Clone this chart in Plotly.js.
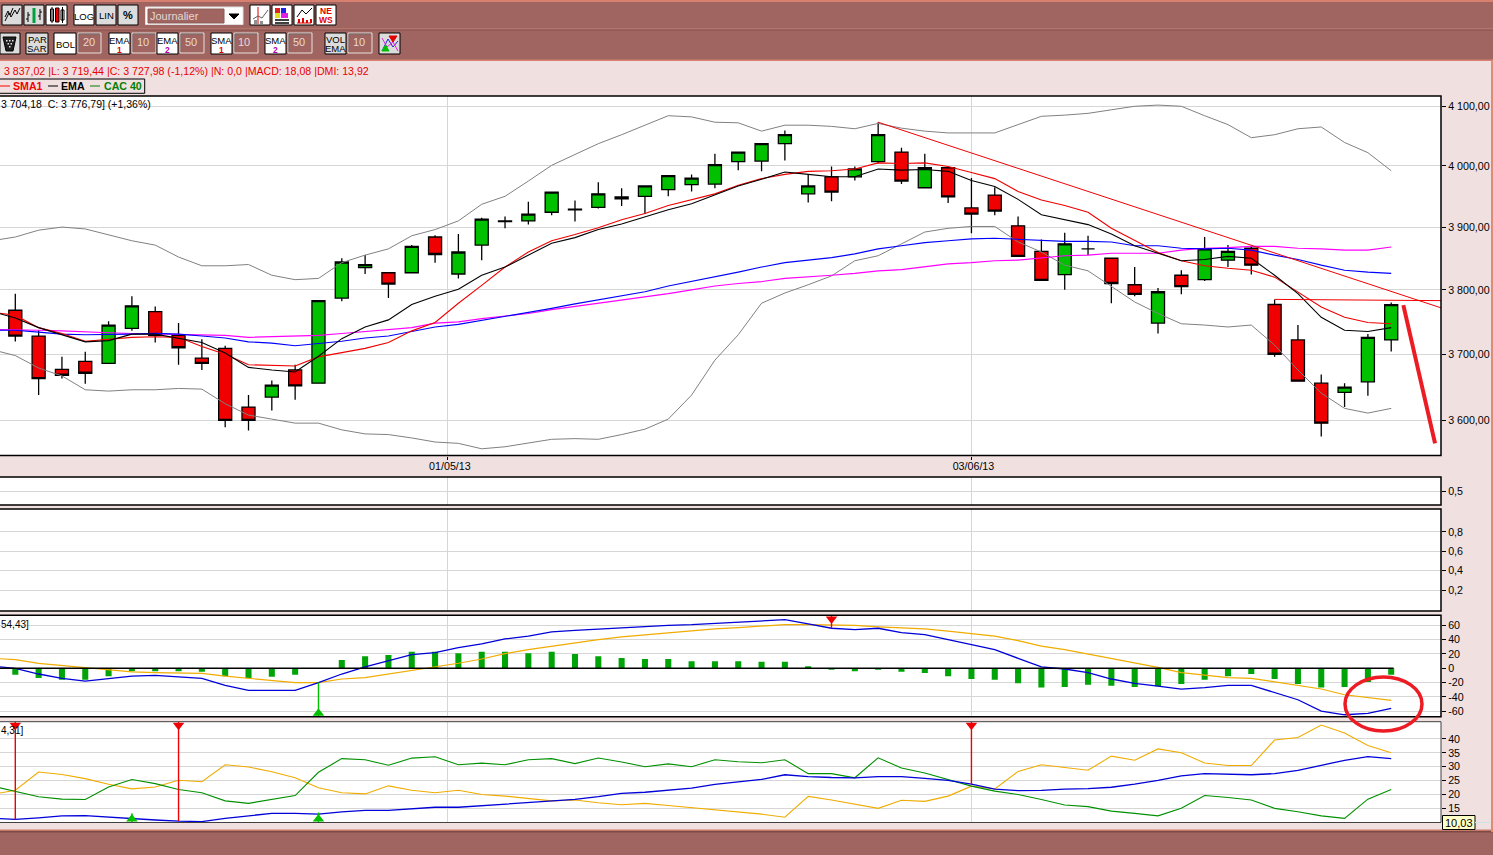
<!DOCTYPE html>
<html><head><meta charset="utf-8">
<script src="https://cdn.plot.ly/plotly-3.0.1.min.js"></script>
<style>html,body{margin:0;padding:0;background:#f0e0e0;overflow:hidden}#c{width:1493px;height:855px}</style>
</head><body><div id="c"></div>
<script>
// ---- sessions (first entry is the session just off the left edge, no candle shown)
const sessions = [-1,0,1,2,3,4,5,6,7,8,9,10,11,12,13,14,15,16,17,18,19,20,21,22,23,24,25,26,27,28,29,30,31,32,33,34,35,36,37,38,39,40,41,42,43,44,45,46,47,48,49,50,51,52,53,54,55,56,57,58,59];
const candleSessions = sessions.slice(1);
const dateTickPos = [18.55, 41];
const dateTickText = ['01/05/13', '03/06/13'];

// ---- candles
const open = [3768,3728,3677,3689,3686,3740,3766,3729,3694,3709,3620,3635,3676,3656,3787,3835,3827,3827,3884,3825,3871,3909,3910,3924,3928,3932,3949,3950,3961,3969,3970,4007,4008,4037,3954,3982,3982,4007,4023,3964,3997,3931,3952,3902,3861,3824,3865,3850,3808,3748,3823,3816,3847,3866,3777,3722,3656,3642,3658,3722];
const high = [3794,3737,3696,3704,3751,3790,3774,3748,3723,3713,3638,3660,3684,3783,3850,3855,3827,3871,3887,3889,3915,3917,3941,3957,3943,3973,3963,3967,3984,3986,4020,4023,4037,4059,3986,3999,3999,4073,4030,4020,3997,3980,3965,3917,3880,3891,3886,3850,3836,3803,3831,3884,3871,3870,3785,3745,3669,3656,3731,3780];
const low = [3719.44,3638,3663,3655,3686,3736,3718,3684,3676,3590,3585,3615,3631,3656,3782,3825,3787,3827,3843,3818,3847,3898,3904,3919,3909,3930,3934,3921,3950,3958,3963,3993,3991,4009,3940,3942,3976,4004,3970,3964,3939,3890,3919,3853,3815,3800,3855,3779,3790,3732,3793,3814,3836,3824,3696,3659,3576,3620,3637,3704.18];
const close = [3727.98,3663,3668,3671,3745,3775,3729,3710,3686,3600,3600,3653,3652,3783,3844,3840,3809,3869,3856,3860,3913,3910,3921,3957,3929,3954,3946,3967,3984,3980,4002,4023,4037,4052,3967,3957,3995,4052,3975,3997,3949,3921,3926,3853,3815,3873,3865,3810,3793,3797,3805,3865,3861,3839,3700,3659,3596,3650,3726,3776.79];

// ---- overlays on the price panel
const bbUpper = [3878,3884,3895,3900,3897,3888,3878,3871,3852,3838,3838,3840,3823,3816,3818,3843,3855,3865,3886,3896,3910,3937,3950,3975,4001,4019,4037,4052,4068,4084,4082,4073,4072,4058,4068,4068,4066,4062,4071,4063,4058,4055,4055,4055,4069,4083,4085,4088,4094,4100,4102,4100,4084,4069,4047,4052,4062,4065,4039,4022,3992];
const bbLower = [3707,3698,3679,3667,3646,3644,3646,3646,3648,3647,3625,3608,3602,3596,3596,3586,3580,3579,3574,3568,3566,3558,3561,3567,3572,3573,3572,3579,3587,3602,3638,3691,3730,3779,3795,3808,3822,3846,3854,3873,3892,3898,3901,3901,3876,3860,3839,3830,3805,3781,3763,3747,3745,3742,3745,3714,3676,3641,3618,3611,3618];
const ema1 = [3766,3756,3741,3730,3719,3721,3731,3731,3725,3718,3702,3680,3676,3673,3697,3724,3742,3753,3777,3790,3801,3823,3836,3855,3874,3883,3896,3905,3917,3928,3938,3953,3967,3978,3990,3986,3982,3982,3995,3993,3994,3991,3976,3966,3945,3920,3912,3904,3889,3870,3858,3846,3848,3853,3850,3823,3794,3757,3737,3735,3741];
const sma1 = [3765,3760,3741,3732,3720,3723,3726,3727,3726,3712,3700,3684,3683,3682,3696,3702,3709,3718,3736,3749,3779,3807,3836,3860,3878,3888,3899,3912,3922,3935,3945,3954,3968,3979,3986,3991,3992,3995,4005,4004,4005,3999,3989,3979,3958,3944,3935,3924,3898,3878,3859,3846,3838,3834,3831,3820,3796,3773,3757,3749,3747];
const ema2 = [3737,3737,3734,3731,3730,3730,3731,3732,3731,3728,3725,3719,3717,3713,3716,3720,3725,3728,3735,3742,3746,3752,3759,3764,3771,3778,3784,3790,3797,3806,3813,3820,3828,3836,3843,3847,3851,3857,3865,3870,3875,3878,3881,3882,3880,3878,3877,3877,3876,3870,3870,3866,3865,3866,3863,3855,3848,3839,3831,3828,3826];
const sma2 = [3738,3738,3737,3736,3734,3733,3732,3731,3731,3729,3729,3726,3727,3728,3729,3732,3735,3738,3741,3748,3750,3755,3759,3763,3769,3774,3778,3784,3788,3794,3800,3806,3810,3813,3818,3820,3823,3826,3830,3832,3836,3841,3843,3846,3847,3850,3854,3855,3858,3858,3858,3863,3866,3867,3869,3869,3866,3865,3863,3863,3868];

// ---- hand-drawn lines on the price panel (session, price)
const trendSessions = [37, 61.2];
const trendPrices = [4073, 3771];
const resistanceSessions = [54, 61.2];
const resistancePrices = [3785, 3783];
const arrowSessions = [59.52, 60.88];
const arrowPrices = [3776, 3566];

// ---- MACD
const macd = [3,0,-8,-14,-18,-15,-11,-10,-12,-14,-24,-31,-31,-31,-20,-8,2,10,19,22,29,34,41,45,51,53,55,57,59,60,61,63,64,66,68,62,56,54,56,50,47,40,33,26,14,2,-1,-6,-15,-21,-25,-29,-27,-24,-24,-33.5,-44,-60,-65,-63,-56];
const macdSignal = [14,12,7,4,0,-3,-5,-6,-6,-7,-11,-14,-16,-20,-20,-15,-13,-8,-4,2,7,13,20.5,26,31,36,40,44,47,50,52,55,57,59,61,61,61,60,58,57,55,52,49,45,38.6,31,26,20,14,8,1.4,-6,-10,-13,-14,-19,-23,-29,-37,-41,-45];
const macdHist = [-9,-13.5,-16,-16,-11,-4,-4,-4,-5,-11,-14,-12,-9,0,11.6,17,18.6,23,23,21,23,23,21,23,20,17,14.4,13,13,10,10,10,9,9,3,-2,-4,-2,-5,-6.5,-11,-15,-16,-21,-27,-26,-23,-24.5,-26,-25,-22,-16,-11,-8,-15,-22,-27,-26,-19,-9];
const macdSellSessions = [35], macdSellFrom = [74], macdSellTo = [56], macdSellMark = [68.8];
const macdBuySessions = [13], macdBuyFrom = [-68], macdBuyTo = [-20], macdBuyMark = [-63];

// ---- DMI
const adx = [11.4,11,11.6,12.3,12.4,11.8,11.4,10.8,10.4,10.2,11.4,12.3,13.2,13.2,12.9,13.7,14.3,14.3,14.8,15.4,15.4,16,16.4,17,17.7,18.2,19.2,20.4,20.8,21.5,22.3,23.6,24.6,25.4,27.1,26.4,26.1,26,26.4,26.4,25.8,25.1,23.7,21.9,21.4,21.5,21.9,22.1,22.6,23.7,25.1,26.7,27.5,27.3,27.1,27.5,28.7,30.5,32.3,33.6,32.9];
const diPlus = [23,21,19.2,18.3,18.2,22.7,25.4,23.9,21.8,20.6,17.7,16.8,18.2,19.6,28,32.9,32.5,30.5,33.1,33.6,30.7,31.3,30.7,32.5,32.9,31.1,33.1,31.7,30,31,30,32.5,31.8,31.4,32.5,27.5,27.5,26,33.2,29.5,27.7,25.4,23,21.2,20,18.2,16.2,15.6,14,13.2,12.3,15,19.6,18.9,18,15,13.8,12.3,11.4,18.3,21.8];
const diMinus = [20,21.5,28.1,27.2,25.7,23.7,22,22.7,25.1,24.6,30.7,29.9,28.2,26,22.4,20.6,20.2,23.1,21.5,20.6,21.5,20,19.4,18.5,17.7,18,17,16.3,16.8,16,15.2,14.3,13.6,12.9,11.8,19.3,18,16.5,15,17.9,17.5,19.4,23,22,28.3,30.7,29.6,28.7,33.8,32.3,36.4,35,31.3,30.4,30.4,39.6,40.5,45,42.1,37.6,35];
const dmiSellSessions = [0,7,41], dmiSellFrom = [46.2,46.2,46.2], dmiSellTo = [11,10.4,23.7], dmiSellMark = [44.9,44.9,44.9];
const dmiBuySessions = [5,13], dmiBuyFrom = [10,10], dmiBuyTo = [13.2,13.5], dmiBuyMark = [11.2,11.2];

// ---- tick labels
const priceTicks = [3600,3700,3800,3900,4000,4100];
const priceTickText = ['3 600,00','3 700,00','3 800,00','3 900,00','4 000,00','4 100,00'];
const p2Ticks = [0.5], p2TickText = ['0,5'];
const p3Ticks = [0.2,0.4,0.6,0.8], p3TickText = ['0,2','0,4','0,6','0,8'];
const macdTicks = [-60,-40,-20,0,20,40,60], macdTickText = ['-60','-40','-20','0','20','40','60'];
const dmiTicks = [15,20,25,30,35,40], dmiTickText = ['15','20','25','30','35','40'];

// ---- page geometry helpers
const W = 1493, H = 855;
const px = x => x / W, py = y => 1 - y / H;
const FONT = '"Liberation Sans", Arial, sans-serif';
const BROWN = '#a06560', PINK = '#f0e0e0', SALMON = '#d8806f', GRID = '#d6d6d6';
const RED = '#f00000', GREEN = '#00c000', SIG_GREEN = '#00c000';
const shapes = [], annotations = [];

function rect(x0,y0,x1,y1,fill,lineColor,lw,layer){
  shapes.push({type:'rect',xref:'paper',yref:'paper',x0:px(x0),x1:px(x1),y0:py(y1),y1:py(y0),
    fillcolor:fill||'rgba(0,0,0,0)',line:{color:lineColor||'rgba(0,0,0,0)',width:lineColor?(lw||1):0},layer:layer||'above'});
}
function poly(pts,color,lw,fill){
  const d = pts.map((p,i)=>(i?'L':'M')+px(p[0])+','+py(p[1])).join(' ');
  shapes.push({type:'path',xref:'paper',yref:'paper',path:d+(fill?' Z':''),fillcolor:fill||'rgba(0,0,0,0)',
    line:{color:color,width:lw||1},layer:'above'});
}
function txt(x,y,text,o){
  o=o||{};
  annotations.push({xref:'paper',yref:'paper',x:px(x),y:py(y),text:text,showarrow:false,
    xanchor:o.anchor||'left',yanchor:'middle',borderpad:0,bgcolor:o.bg,
    font:{family:FONT,size:o.size||11,color:o.color||'#000',weight:o.bold?'bold':'normal'}});
}
function btn(x0,y0,x1,y1,fill){ rect(x0,y0,x1,y1,fill,'#000',1); }
function input(x0,y0,x1,y1,t){
  rect(x0,y0,x1,y1,BROWN,'#e8e0dc',1);
  poly([[x0+1,y1-1],[x0+1,y0+1],[x1-1,y0+1]],'#707070',1);
  txt(x0+3.5,(y0+y1)/2-1.5,t,{size:11,color:'#e8d8d4'});
}
const WHITE='#ffffff', GREY='#dcdcdc';

// window chrome
rect(0,0,W,60,BROWN,null,0,'below');
rect(0,832,W,H,BROWN,null,0,'below');
rect(0,0,W,2,SALMON,null,0,'below');
rect(0,28.5,W,29.5,'#c48478',null,0,'below');
rect(0,29.5,W,30.5,'#86504a',null,0,'below');
rect(0,59.5,W,61,SALMON,null,0,'below');
rect(0,829.5,W,831,'#c87868',null,0,'below');
rect(0,831,W,832.5,'#7c4a44',null,0,'below');
rect(1491,60,W,832,'#e08a78',null,0,'below');

// first toolbar row
btn(2,5,22,25,GREY);
poly([[5,21],[9,13],[11,17],[15,10],[17,14],[20,8]],'#000',1);
poly([[5,17],[8,11],[10,15],[13,8]],'#000',1);
btn(24,5,44,25,GREY);
poly([[28,12],[28,22]],'#000',1); poly([[26,19],[28,19]],'#000',1); poly([[28,15],[30,15]],'#000',1);
poly([[34,8],[34,23]],'#00a040',3);
poly([[40,9],[40,20]],'#000',1); poly([[38,16],[40,16]],'#000',1); poly([[40,12],[42,12]],'#000',1);
btn(46,5,67,25,WHITE);
rect(50.5,9,53.5,21,WHITE,'#000',1); rect(55.5,8,59,22,RED,'#000',1); rect(61,10,64,20,WHITE,'#000',1);
poly([[52,7],[52,23]],'#000',1); poly([[62.5,7],[62.5,23]],'#000',1);
btn(74,5,94,25,WHITE); txt(84,16,'LOG',{anchor:'center',size:9.5});
btn(96,5,116,25,GREY); txt(106,15,'LIN',{anchor:'center',size:9.5});
btn(118,5,138,25,GREY); txt(128,15,'%',{anchor:'center',size:11,bold:true});
rect(145.5,7,243,24.5,WHITE,'#e0e0e0',1);
rect(148,9,224,23,BROWN,'#8a5a56',1);
txt(149,16,'Journalier',{size:11,color:'#e4d8d4'});
poly([[229,14],[239,14],[234,19]],'#000',1,'#000');
btn(250,5,270,25,WHITE);
poly([[258,7],[258,24]],'#e00000',1); poly([[253,19],[258,16],[262,18],[268,10]],'#606060',1);
rect(254,20,257,24,'#909090'); rect(260,21,263,24,'#909090');
btn(272,5,292,25,WHITE);
rect(275,8,280,13,'#e02020'); rect(281,8,286,13,'#2020e0'); rect(275,13,280,18,'#e0e020'); rect(281,13,288,18,'#e020e0');
poly([[275,20],[289,20]],'#000',1.5); poly([[275,23],[289,23]],'#000',1.5);
btn(294,5,314,25,WHITE);
poly([[297,17],[302,10],[306,14],[312,8]],'#000',1); poly([[297,23],[311,23]],'#e00000',1);
rect(298,19,300,23,'#e00000'); rect(302,18,304,23,'#e00000'); rect(306,20,308,23,'#e00000'); rect(310,19,312,23,'#e00000');
btn(316,5,336,25,WHITE);
txt(326,11,'NE',{anchor:'center',size:8.5,color:'#e00000',bold:true});
txt(326,20,'WS',{anchor:'center',size:8.5,color:'#e00000',bold:true});

// second toolbar row
btn(0,33,20,54,GREY);
poly([[3,37],[16,37],[13,51],[6,51]],'#000',1,'#202020');
[[6,40],[9,40],[12,40],[7.5,43],[10.5,43],[9,46]].forEach(d=>rect(d[0],d[1],d[0]+1.5,d[1]+1.5,'#e8e8e8'));
btn(26,33,48,54,GREY); txt(37,39.5,'PAR',{anchor:'center',size:9.5}); txt(37,48.5,'SAR',{anchor:'center',size:9.5});
btn(54,33,76,54,WHITE); txt(65,44.5,'BOL',{anchor:'center',size:9.5});
input(78,33,101,53,'20');
function maBtn(x0,name,n,col){
  btn(x0,33,x0+21,54,WHITE);
  txt(x0+10.5,41,name,{anchor:'center',size:9.5});
  txt(x0+10.5,50,n,{anchor:'center',size:8.5,color:col,bold:true});
}
maBtn(109,'EMA','1','#e00000'); input(132,33,156,53,'10');
maBtn(157,'EMA','2','#b000b0'); input(180,33,204,53,'50');
maBtn(211,'SMA','1','#e00000'); input(234,33,258,53,'10');
maBtn(265,'SMA','2','#b000b0'); input(288,33,312,53,'50');
btn(325,33,346,54,GREY); txt(335.5,39.5,'VOL',{anchor:'center',size:9.5}); txt(335.5,48.5,'EMA',{anchor:'center',size:9.5});
input(348,33,372,53,'10');
btn(379,33,400,54,GREY);
poly([[382,51],[388,39],[393,47],[398,41]],'#2020e0',1);
poly([[382,38],[387,47],[393,42],[398,51]],'#e020e0',1);
poly([[389,36],[397,36],[393,42]],'#e00000',1,'#e00000');
poly([[382,51],[389,51],[385.5,45]],'#00c000',1,'#00c000');

// status & legend strip
txt(3,71,'3 837,02 |L: 3 719,44 |C: 3 727,98 (-1,12%) |N: 0,0 |MACD: 18,08 |DMI: 13,92',{color:'#e80000',size:10.6});
rect(-3,79,144.7,93.3,PINK,'#000',1);
poly([[0,86],[10,86]],'#ff0000',1);
txt(12,86.3,'SMA1',{color:'#f00000',bold:true,size:10.6});
poly([[48,86],[58,86]],'#000',1);
txt(60,86.3,'EMA',{color:'#000',bold:true,size:10.6});
poly([[90,86],[100,86]],'#008000',1);
txt(103,86.3,'CAC 40',{color:'#008000',bold:true,size:10.6});

// panel captions & cursor box
txt(0,103.5,'3 704,18&nbsp;&nbsp;C: 3 776,79] (+1,36%)',{size:10.5});
txt(0,624,'54,43]',{size:10});
txt(0,730,'4,31]',{size:10});
rect(1442.5,815.5,1475,829.5,'#ffffc8','#000',1);
txt(1458.7,822.5,'10,03',{anchor:'center',size:11});
poly([[1475,822.5],[1490,822.5]],'#c4e4e8',1);

// panel frames
const panels = [[96,455.5],[477,505],[509,611],[615.3,716.7],[721.7,822.5]];
panels.forEach((p,i)=>rect(-3,p[0],1441,p[1],null,i===4?'#404040':'#000',i===4?1:1.5));

// hand-drawn ellipse around the MACD crossing
shapes.push({type:'circle',xref:'paper',yref:'paper',x0:px(1345),x1:px(1422),y0:py(731),y1:py(677),
  line:{color:'#ed1c24',width:3.5},layer:'above'});

// ---- axes
const xEnd = 1441/W;
function dom(i){ return [py(panels[i][1]), py(panels[i][0])]; }
function yAxis(i,range,tv,tt,type){
  return {domain:dom(i),anchor:'x',side:'right',range:range,type:type||'linear',tickmode:'array',tickvals:tv,ticktext:tt,
    ticks:'outside',ticklen:4,tickwidth:1,tickcolor:'#000',showgrid:true,gridcolor:GRID,gridwidth:1,zeroline:false,showline:false,
    tickfont:{family:FONT,size:10.7,color:'#000'},automargin:false,fixedrange:true};
}
const layout = {
  width:W,height:H,margin:{l:0,r:0,t:0,b:0,pad:0},paper_bgcolor:PINK,plot_bgcolor:'#fff',showlegend:false,hovermode:false,
  boxgap:0.44,boxgroupgap:0,barmode:'overlay',
  xaxis:{domain:[0,xEnd],anchor:'y',range:[-0.656,61.135],type:'linear',tickmode:'array',tickvals:dateTickPos,ticktext:dateTickText,
    ticks:'outside',ticklen:3,tickcolor:'#000',showgrid:true,gridcolor:GRID,gridwidth:1,zeroline:false,showline:false,
    ticklabelstandoff:-2,ticklabelshift:2,
    tickfont:{family:FONT,size:10.7,color:'#000'},rangeslider:{visible:false},fixedrange:true,automargin:false},
  yaxis:yAxis(0,[3.55,3.61463],priceTicks,priceTickText,'log'),
  yaxis2:yAxis(1,[0,1],p2Ticks,p2TickText),
  yaxis3:yAxis(2,[-0.016,1.037],p3Ticks,p3TickText),
  yaxis4:yAxis(3,[-67.7,74.1],macdTicks,macdTickText),
  yaxis5:yAxis(4,[9.9,46.2],dmiTicks,dmiTickText),
  shapes:shapes,annotations:annotations
};
// MACD base line stops at the last session; the grid under it is hidden further right
shapes.push({type:'line',xref:'x',yref:'y4',x0:59,x1:61.135,y0:0,y1:0,line:{color:'#fff',width:2},layer:'between'});
shapes.push({type:'line',xref:'x',yref:'y4',x0:-0.656,x1:59.1,y0:0,y1:0,line:{color:'#000',width:1.5},layer:'above'});

// ---- traces
function line(x,y,color,width,axis){
  return {type:'scatter',mode:'lines',x:x,y:y,yaxis:axis||'y',line:{color:color,width:width||1,shape:'linear'},hoverinfo:'skip'};
}
function segs(xs,from,to,color,axis){
  const x=[],y=[];
  xs.forEach((v,i)=>{x.push(v,v,null);y.push(from[i],to[i],null);});
  return {type:'scatter',mode:'lines',x:x,y:y,yaxis:axis,line:{color:color,width:1.4},hoverinfo:'skip'};
}
function marks(xs,ys,sym,color,axis){
  return {type:'scatter',mode:'markers',x:xs,y:ys,yaxis:axis,cliponaxis:false,marker:{symbol:sym,size:10,color:color,line:{width:0}},hoverinfo:'skip'};
}
const data = [
  line(sessions,bbUpper,'#808080',1),
  line(sessions,bbLower,'#808080',1),
  line(sessions,sma2,'#ff00ff',1.15),
  line(sessions,ema2,'#0000ff',1.15),
  line(sessions,sma1,'#f00000',1.1),
  line(sessions,ema1,'#000000',1.1),
  line(trendSessions,trendPrices,'#f00000',1),
  line(resistanceSessions,resistancePrices,'#f00000',1),
  {type:'candlestick',x:candleSessions,open:open,high:high,low:low,close:close,yaxis:'y',
    increasing:{line:{color:'#000',width:1.3},fillcolor:'#00c000'},
    decreasing:{line:{color:'#000',width:1.3},fillcolor:'#f00000'},whiskerwidth:0,hoverinfo:'skip'},
  line(arrowSessions,arrowPrices,'#ec1c24',4),
  {type:'scatter',mode:'lines',x:[0],y:[null],yaxis:'y2',hoverinfo:'skip'},
  {type:'scatter',mode:'lines',x:[0],y:[null],yaxis:'y3',hoverinfo:'skip'},
  {type:'bar',x:candleSessions,y:macdHist,yaxis:'y4',width:0.26,marker:{color:'#00a408',line:{width:0}},hoverinfo:'skip'},
  line(sessions,macdSignal,'#f0ac00',1.2,'y4'),
  line(sessions,macd,'#0000d8',1.3,'y4'),
  segs(macdSellSessions,macdSellFrom,macdSellTo,'#f00000','y4'),
  segs(macdBuySessions,macdBuyFrom,macdBuyTo,SIG_GREEN,'y4'),
  marks(macdSellSessions,macdSellMark,'triangle-down','#f00000','y4'),
  marks(macdBuySessions,macdBuyMark,'triangle-up',SIG_GREEN,'y4'),
  line(sessions,diMinus,'#f0ac00',1.1,'y5'),
  line(sessions,diPlus,'#009000',1.1,'y5'),
  line(sessions,adx,'#0000d8',1.3,'y5'),
  segs(dmiSellSessions,dmiSellFrom,dmiSellTo,'#f00000','y5'),
  segs(dmiBuySessions,dmiBuyFrom,dmiBuyTo,SIG_GREEN,'y5'),
  marks(dmiSellSessions,dmiSellMark,'triangle-down','#f00000','y5'),
  marks(dmiBuySessions,dmiBuyMark,'triangle-up',SIG_GREEN,'y5')
];
Plotly.newPlot('c',data,layout,{displayModeBar:false,staticPlot:true});
</script></body></html>
